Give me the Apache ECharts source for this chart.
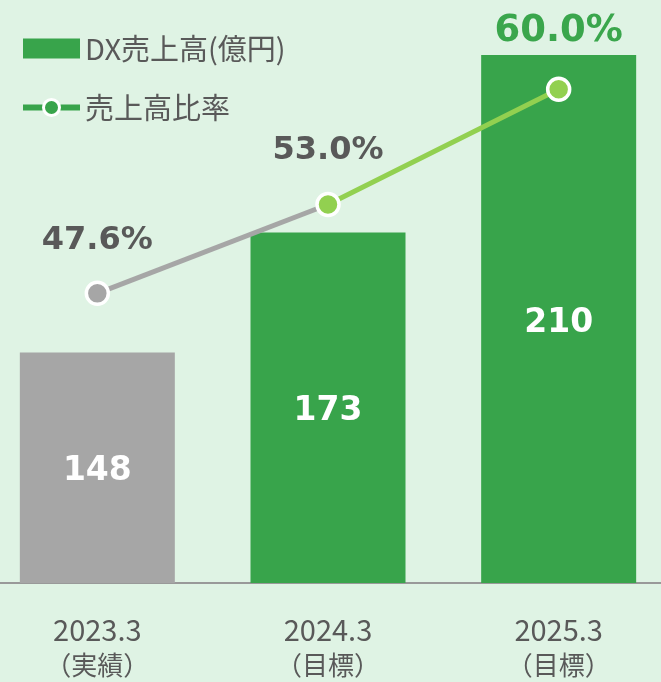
<!DOCTYPE html>
<html><head><meta charset="utf-8">
<script src="https://cdn.jsdelivr.net/npm/echarts@6/dist/echarts.min.js"></script>
<style>html,body{margin:0;padding:0;background:#dff3e4;overflow:hidden;width:661px;height:682px;position:relative;}#c{position:absolute;left:-18px;top:0;width:692px;height:682px;}</style>
</head><body><div id="c"></div>
<script>
const categories = ['2023.3', '2024.3', '2025.3'];
const subLabels = ['（実績）', '（目標）', '（目標）'];
const salesValues = [148, 173, 210];
const ratioValues = [47.6, 53.0, 60.0];
const barName = 'DX売上高(億円)';
const lineName = '売上高比率';

const GREEN = '#38a44b', GRAY = '#a6a6a6', LIGHT = '#92d050', TXT = '#595959';
const chart = echarts.init(document.getElementById('c'));
chart.setOption({
  backgroundColor: '#dff3e4',
  animation: false,
  legend: {
    orient: 'vertical', left: 33, top: 29, itemWidth: 57, itemHeight: 20, itemGap: 30,
    textStyle: { fontFamily: 'Noto Sans CJK JP', fontSize: 29, color: TXT },
    data: [
      { name: barName, icon: 'rect', itemStyle: { color: GREEN } },
      { name: lineName, itemStyle: { color: GREEN, borderColor: '#fff', borderWidth: 3 }, lineStyle: { color: GREEN, width: 6 } }
    ]
  },
  grid: { left: 0, right: 0, top: 7, bottom: 99 },
  xAxis: {
    type: 'category', data: categories.map((c, i) => c + '\n' + subLabels[i]),
    axisLine: { lineStyle: { color: '#999', width: 2 } },
    axisTick: { show: false },
    axisLabel: {
      margin: 29,
      formatter: v => { const p = v.split('\n'); return '{a|' + p[0] + '}\n{b|' + p[1] + '}'; },
      rich: {
        a: { fontFamily: 'Noto Sans CJK JP', fontSize: 29, color: TXT, lineHeight: 36 },
        b: { fontFamily: 'Noto Sans CJK JP', fontSize: 26, color: TXT, lineHeight: 34 }
      }
    }
  },
  yAxis: [
    { type: 'value', min: 100, max: 220, show: false, splitLine: { show: false } },
    { type: 'value', min: 30, max: 65, show: false, splitLine: { show: false } }
  ],
  series: [
    {
      name: barName, type: 'bar', barWidth: 155,
      data: salesValues.map((v, i) => ({ value: v, itemStyle: { color: i === 0 ? GRAY : GREEN } })),
      label: { show: true, position: 'inside', offset: [0, 4], color: '#fff', fontFamily: 'DejaVu Sans', fontWeight: 'bold', fontSize: 33 }
    },
    {
      name: lineName, type: 'line', yAxisIndex: 1, symbol: 'circle', symbolSize: 22,
      lineStyle: { color: GRAY, width: 5 },
      itemStyle: { color: GRAY, borderColor: '#fff', borderWidth: 3.5 },
      data: [
        { value: ratioValues[0], label: { show: true, position: 'top', distance: 24, formatter: ratioValues[0].toFixed(1) + '%', color: TXT, fontFamily: 'DejaVu Sans', fontWeight: 'bold', fontSize: 32, lineHeight: 32 } },
        { value: ratioValues[1], symbol: 'none' },
        '-'
      ],
      z: 3
    },
    {
      name: lineName + '_2', type: 'line', yAxisIndex: 1, symbol: 'circle', symbolSize: 22,
      lineStyle: { color: LIGHT, width: 5 },
      itemStyle: { color: LIGHT, borderColor: '#fff', borderWidth: 3.5 },
      data: [
        '-',
        { value: ratioValues[1], label: { show: true, position: 'top', distance: 25, formatter: ratioValues[1].toFixed(1) + '%', color: TXT, fontFamily: 'DejaVu Sans', fontWeight: 'bold', fontSize: 32, lineHeight: 32 } },
        { value: ratioValues[2], label: { show: true, position: 'top', distance: 27, formatter: ratioValues[2].toFixed(1) + '%', color: '#3aa64c', fontFamily: 'DejaVu Sans', fontWeight: 'bold', fontSize: 37, lineHeight: 37 } }
      ],
      z: 4
    }
  ]
});
</script></body></html>
